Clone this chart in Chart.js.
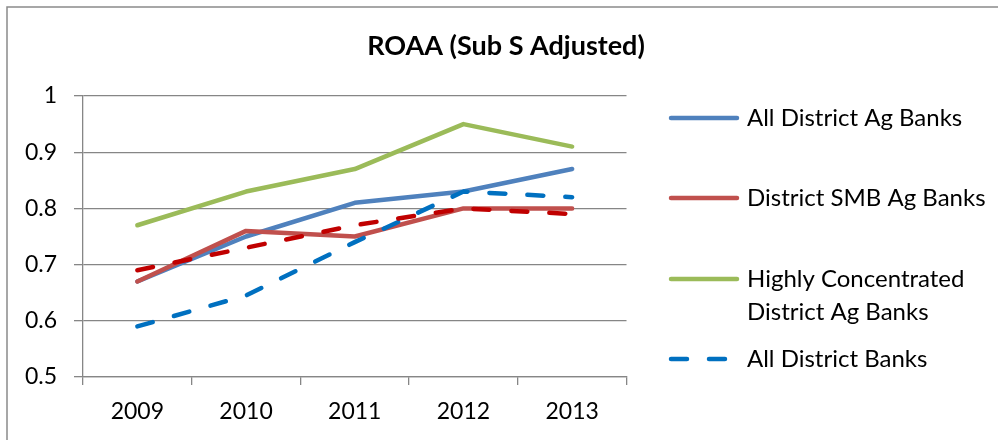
<!DOCTYPE html>
<html>
<head>
<meta charset="utf-8">
<script src="https://cdn.jsdelivr.net/npm/chart.js@4/dist/chart.umd.min.js"></script>
<style>
  html, body { margin: 0; padding: 0; background: #fff; }
  #wrap { width: 998px; height: 440px; position: relative; }
</style>
</head>
<body>
<div id="wrap"><canvas id="roaa"></canvas></div>
<script>
const years = ["2009", "2010", "2011", "2012", "2013"];
const allDistrictAg = [0.67, 0.75, 0.81, 0.83, 0.87];
const districtSmbAg = [0.67, 0.76, 0.75, 0.80, 0.80];
const highlyConcentrated = [0.77, 0.83, 0.87, 0.95, 0.91];
const allDistrictBanks = [0.59, 0.645, 0.74, 0.83, 0.82];
const districtSmbBanks = [0.69, 0.73, 0.77, 0.80, 0.79];
const yTicks = [0.5, 0.6, 0.7, 0.8, 0.9, 1];
const chartTitle = "ROAA (Sub S Adjusted)";

const gridGray = "#868686";
const fontFamily = "Lato";

// legend rows: label lines, y of the first line
const legendRows = [
  { lines: ["All District Ag Banks"], y: 118 },
  { lines: ["District SMB Ag Banks"], y: 198 },
  { lines: ["Highly Concentrated", "District Ag Banks"], y: 279 },
  { lines: ["All District Banks"], y: 359 },
];

// outer frame, centred title and the side legend (Excel style)
const sideLegend = {
  id: "sideLegend",
  beforeDraw(chart) {
    const ctx = chart.ctx;
    ctx.save();
    ctx.strokeStyle = "#8a8a8a";
    ctx.lineWidth = 1.5;
    ctx.strokeRect(7, 7, 1100, 600);
    ctx.restore();
  },
  afterDraw(chart) {
    const ctx = chart.ctx;
    ctx.save();
    ctx.fillStyle = "#000";
    ctx.font = "bold 27px " + fontFamily;
    ctx.textAlign = "center";
    ctx.textBaseline = "middle";
    ctx.fillText(chartTitle, 506, 46);

    ctx.textAlign = "left";
    legendRows.forEach((row, i) => {
      const ds = chart.data.datasets[i];
      ctx.strokeStyle = ds.borderColor;
      ctx.lineWidth = ds.borderWidth;
      ctx.lineCap = "round";
      ctx.setLineDash(ds.borderDash || []);
      ctx.beginPath();
      ctx.moveTo(671, row.y);
      ctx.lineTo(737, row.y);
      ctx.stroke();
      ctx.setLineDash([]);
      ctx.fillStyle = "#000";
      ctx.font = "24px " + fontFamily;
      row.lines.forEach((t, k) => ctx.fillText(t, 747, row.y + k * 33));
    });
    ctx.restore();
  },
};

function lineSet(label, data, color, dashed, order) {
  return {
    label: label,
    data: data,
    borderColor: color,
    backgroundColor: color,
    borderWidth: 4.5,
    borderDash: dashed ? [16, 22] : [],
    borderCapStyle: "round",
    borderJoinStyle: "round",
    pointRadius: 0,
    tension: 0,
    fill: false,
    order: order,
  };
}

new Chart(document.getElementById("roaa"), {
  type: "line",
  data: {
    labels: years,
    datasets: [
      lineSet("All District Ag Banks", allDistrictAg, "#4F81BD", false, 5),
      lineSet("District SMB Ag Banks", districtSmbAg, "#C0504D", false, 4),
      lineSet("Highly Concentrated District Ag Banks", highlyConcentrated, "#9BBB59", false, 3),
      lineSet("All District Banks", allDistrictBanks, "#0070C0", true, 2),
      lineSet("District SMB Banks", districtSmbBanks, "#C00000", true, 1),
    ],
  },
  options: {
    responsive: true,
    maintainAspectRatio: false,
    animation: false,
    layout: { padding: { top: 96, left: 0, right: 371.5, bottom: 0 } },
    scales: {
      x: {
        offset: true,
        afterFit: (s) => { s.height = 63; },
        grid: {
          offset: true,
          drawOnChartArea: false,
          drawTicks: true,
          tickLength: 8,
          color: gridGray,
          lineWidth: 1.3,
        },
        border: { color: gridGray, width: 1.3 },
        ticks: {
          color: "#000",
          padding: 13,
          maxRotation: 0,
          font: { family: fontFamily, size: 23 },
        },
      },
      y: {
        min: 0.5,
        max: 1,
        afterFit: (s) => { s.width = 83; },
        afterBuildTicks: (s) => { s.ticks = yTicks.map((v) => ({ value: v })); },
        grid: {
          color: gridGray,
          lineWidth: 1.3,
          tickLength: 9,
        },
        border: { color: gridGray, width: 1.3 },
        ticks: {
          color: "#000",
          padding: 17,
          font: { family: fontFamily, size: 23 },
          callback: (v) => String(Math.round(v * 10) / 10),
        },
      },
    },
    plugins: {
      legend: { display: false },
      tooltip: { enabled: false },
      title: { display: false },
    },
  },
  plugins: [sideLegend],
});
</script>
</body>
</html>
